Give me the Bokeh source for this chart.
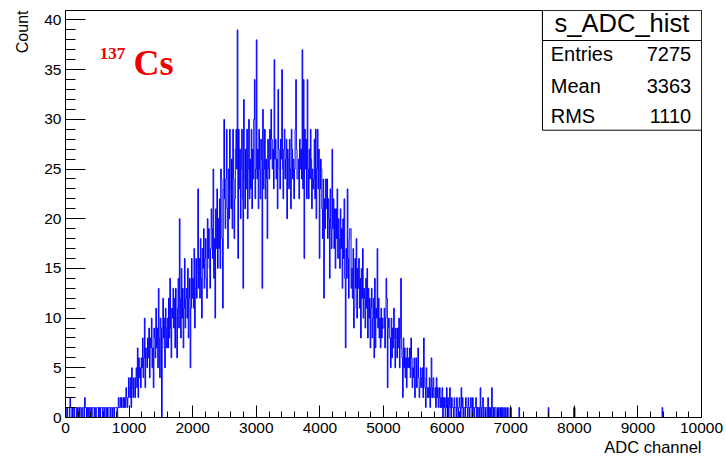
import math
from bokeh.plotting import figure
from bokeh.models import Label, BoxAnnotation, SingleIntervalTicker, Title
from bokeh.embed import file_html
from bokeh.resources import INLINE

# ---------------- data: histogram "s_ADC_hist", 1000 bins of width 10 over 0..10000 ----------------
bin_width = 10
x_lo, x_hi = 0, 10000

counts_0k = [1,1,0,1,1,1,0,2,1,1, 0,1,1,0,1,1,1,0,1,0, 1,1,0,1,1,0,0,1,1,0, 2,1,1,0,1,0,1,1,0,1,
             1,0,1,1,1,0,1,0,0,1, 1,1,0,1,0,1,1,1,0,1, 1,0,1,1,0,1,0,1,1,1, 0,1,1,0,1,1,0,1,1,1,
             1,0,1,2,1,1,2,1,2,1, 1,2,1,2,1,3,2,1,2,4]
counts_1k = [3,2,4,1,5,3,2,4,3,2, 4,5,3,7,2,6,4,5,3,6, 5,8,4,6,10,3,7,6,5,8, 6,9,4,8,7,10,5,7,3,9,
             8,6,11,7,9,5,13,8,4,10, 9,0,7,12,8,10,5,11,9,7, 10,7,12,8,14,9,6,11,10,13, 9,12,7,13,10,6,11,14,9,20,
             12,8,15,10,13,7,11,16,9,12, 13,10,15,8,12,14,5,11,16,12]
counts_2k = [14,11,17,9,13,16,12,15,23,13, 16,12,18,14,10,17,15,19,13,16, 18,14,12,20,16,19,15,13,17,21,
             19,16,25,14,18,10,21,17,23,15, 20,17,22,15,25,24,18,11,23,30, 22,19,24,29,21,17,25,20,29,23,
             21,26,19,29,24,18,22,27,29,25, 39,16,29,23,27,20,25,29,22,13, 32,24,21,27,23,29,20,25,30,22,
             26,23,29,21,27,24,30,34,22,25]
counts_3k = [38,24,27,21,29,25,22,28,26,13, 31,23,25,29,22,26,24,18,28,25, 24,29,26,31,28,25,27,23,36,26,
             28,24,26,21,33,27,25,23,28,26, 35,25,22,27,29,24,26,28,20,27, 26,23,28,25,21,29,27,24,26,22,
             25,29,34,27,24,24,26,22,28,25, 27,24,37,23,34,16,29,25,28,22, 34,25,22,27,24,29,26,21,25,23,
             24,28,22,29,20,25,29,23,27,16]
counts_4k = [23,26,25,21,18,24,12,22,19,24, 21,24,18,22,20,14,23,19,17,27, 19,22,17,21,15,21,18,23,16,20,
             18,15,21,17,19,13,20,16,22,14, 7,17,14,23,16,12,18,19,19,13, 15,12,17,9,11,16,13,18,10,15,
             13,16,11,14,8,15,12,17,10,13, 12,9,14,11,15,8,13,10,12,7, 11,13,8,10,12,6,14,7,11,10,
             17,9,12,8,10,7,11,8,10,9]
counts_5k = [9,11,7,10,14,12,3,9,10,8, 8,5,10,6,9,7,11,8,5,9, 8,6,9,7,10,5,8,14,7,6, 2,8,5,7,4,6,3,7,5,6,
             5,7,4,8,6,3,5,4,6,2, 4,6,3,5,7,4,2,3,5,4, 3,5,2,8,4,3,1,5,3,2, 3,2,4,1,3,6,2,3,4,2,
             2,3,1,4,2,3,1,2,3,1, 2,1,3,0,2,1,2,0,1,3]
counts_6k = [1,2,0,1,3,1,0,2,1,1, 0,2,1,1,0,2,1,0,1,2, 1,0,3,1,2,0,1,1,0,2, 1,1,0,2,1,0,1,2,1,0,
             2,1,0,1,1,2,0,1,0,1, 1,0,3,1,0,1,2,0,1,1, 0,1,1,0,2,0,1,0,1,0, 3,1,0,1,0,1,1,0,0,1,
             0,1,0,0,1,0,1,0,0,1, 0,0,1,0,0,1,0,0,0,1]
counts_7k = [1,0,0,0,0,0,0,0,0,0, 0,0,0,1,0,0,0,0,0,0, 0,0,0,0,0,0,0,0,0,0, 0,0,0,0,0,0,0,0,0,0,
             0,0,0,0,0,0,0,0,0,0, 0,0,0,0,0,0,0,0,0,1, 0,0,0,0,0,0,0,0,0,0, 0,0,0,0,0,0,0,0,0,0,
             0,0,0,0,0,0,0,0,0,0, 0,0,0,0,0,0,0,0,0,1]
counts_8k = [1,0,0,0,0,0,0,0,0,0, 0,0,0,0,0,0,0,0,0,0, 0,0,0,0,0,0,0,0,0,0, 0,0,0,0,0,0,0,0,0,0,
             0,0,0,0,0,0,0,0,0,0, 0,0,0,0,0,0,0,0,0,0, 0,0,0,0,0,0,0,0,0,0, 0,0,0,0,0,0,0,0,0,0,
             0,0,0,0,0,0,0,0,0,0, 0,0,0,0,0,0,0,0,0,0]
counts_9k = [0,0,0,0,0,0,0,0,0,0, 0,0,0,0,0,0,0,0,0,0, 0,0,0,0,0,0,0,0,0,0, 0,0,0,0,0,0,0,0,1,0,
             0,0,0,0,0,0,0,0,0,0, 0,0,0,0,0,0,0,0,0,0, 0,0,0,0,0,0,0,0,0,0, 0,0,0,0,0,0,0,0,0,0,
             0,0,0,0,0,0,0,0,0,0, 0,0,0,0,0,0,0,0,0,0]

counts = (counts_0k + counts_1k + counts_2k + counts_3k + counts_4k +
          counts_5k + counts_6k + counts_7k + counts_8k + counts_9k)

hist_name = "s_ADC_hist"
stat_names = ["Entries", "Mean", "RMS"]
stat_values = ["7275", "3363", "1110"]
x_title = "ADC channel"
y_title = "Count"
x_major, x_minor_div = 1000, 5
y_major, y_minor_div = 5, 5

# ---------------- layout (page has no margin: figure starts at 0,0) ----------------
W, H = 726, 458
FL, FR, FT, FB = 64, 701, 10, 417          # frame edges in pixels
y_top = 1.05 * max(counts)

def dx(px):
    return x_lo + (px - FL) / (FR - FL) * (x_hi - x_lo)

def dy(py):
    return (FB - py) / (FB - FT) * y_top

p = figure(width=W, height=H, x_range=(x_lo, x_hi), y_range=(0, y_top),
           output_backend="svg", toolbar_location=None,
           min_border_left=FL, min_border_right=W - FR,
           min_border_top=FT, min_border_bottom=H - FB)
p.title.text = ""
p.background_fill_color = "white"
p.border_fill_color = "white"
p.outline_line_color = "black"
p.outline_line_width = 1
p.xgrid.visible = False
p.ygrid.visible = False

edges = [x_lo + i * bin_width for i in range(len(counts) + 1)]
p.step(edges, counts + [counts[-1]], mode="after", line_color="#0000ff", line_width=1)

p.xaxis.ticker = SingleIntervalTicker(interval=x_major, num_minor_ticks=x_minor_div)
p.yaxis.ticker = SingleIntervalTicker(interval=y_major, num_minor_ticks=y_minor_div)
for ax, tin, tmin in ((p.xaxis, 12, 6), (p.yaxis, 20, 10)):
    ax.major_tick_in = tin
    ax.major_tick_out = 0
    ax.minor_tick_in = tmin
    ax.minor_tick_out = 0
    ax.axis_line_color = "black"
    ax.major_tick_line_color = "black"
    ax.minor_tick_line_color = "black"
    ax.major_label_text_font = "Liberation Sans"
    ax.major_label_text_font_size = "15.5px"
    ax.major_label_text_color = "black"
p.xaxis.major_label_standoff = 5
p.yaxis.major_label_standoff = 4

sans = "Liberation Sans"
# axis titles (ROOT style: placed at the far end of each axis)
p.add_layout(Title(text=y_title, align="right", text_font=sans, text_font_size="16px",
                   text_font_style="normal", text_color="black", standoff=22), "left")
p.add_layout(Title(text=x_title, align="right", text_font=sans, text_font_size="16.5px",
                   text_font_style="normal", text_color="black", standoff=0), "below")

# stats box
box_style = dict(fill_color="white", fill_alpha=1, line_color="black", line_alpha=1, line_width=1)
p.add_layout(BoxAnnotation(left=dx(541.7), right=x_hi, top=y_top, bottom=dy(129.7), **box_style))
p.add_layout(BoxAnnotation(left=dx(541.7), right=x_hi, top=y_top, bottom=dy(40), **box_style))
p.add_layout(Label(x=dx(621.3), y=dy(22.5), text=hist_name, text_align="center",
                   text_baseline="alphabetic", text_font=sans, text_font_size="25.5px",
                   text_color="black"))
for name, val, base in zip(stat_names, stat_values, (53.8, 85.5, 115.5)):
    p.add_layout(Label(x=dx(550), y=dy(base), text=name, text_align="left",
                       text_baseline="alphabetic", text_font=sans, text_font_size="20px",
                       text_color="black"))
    p.add_layout(Label(x=dx(690.7), y=dy(base), text=val, text_align="right",
                       text_baseline="alphabetic", text_font=sans, text_font_size="20px",
                       text_color="black"))

# isotope tag
p.add_layout(Label(x=dx(98.3), y=dy(53.3), text="137", text_align="left",
                   text_baseline="alphabetic", text_font="Liberation Serif",
                   text_font_style="bold", text_font_size="17px", text_color="#ee0000"))
p.add_layout(Label(x=dx(132), y=dy(62), text="Cs", text_align="left",
                   text_baseline="alphabetic", text_font="Liberation Serif",
                   text_font_style="bold", text_font_size="36px", text_color="#ee0000"))

open("out.html", "w").write(file_html(p, INLINE))
